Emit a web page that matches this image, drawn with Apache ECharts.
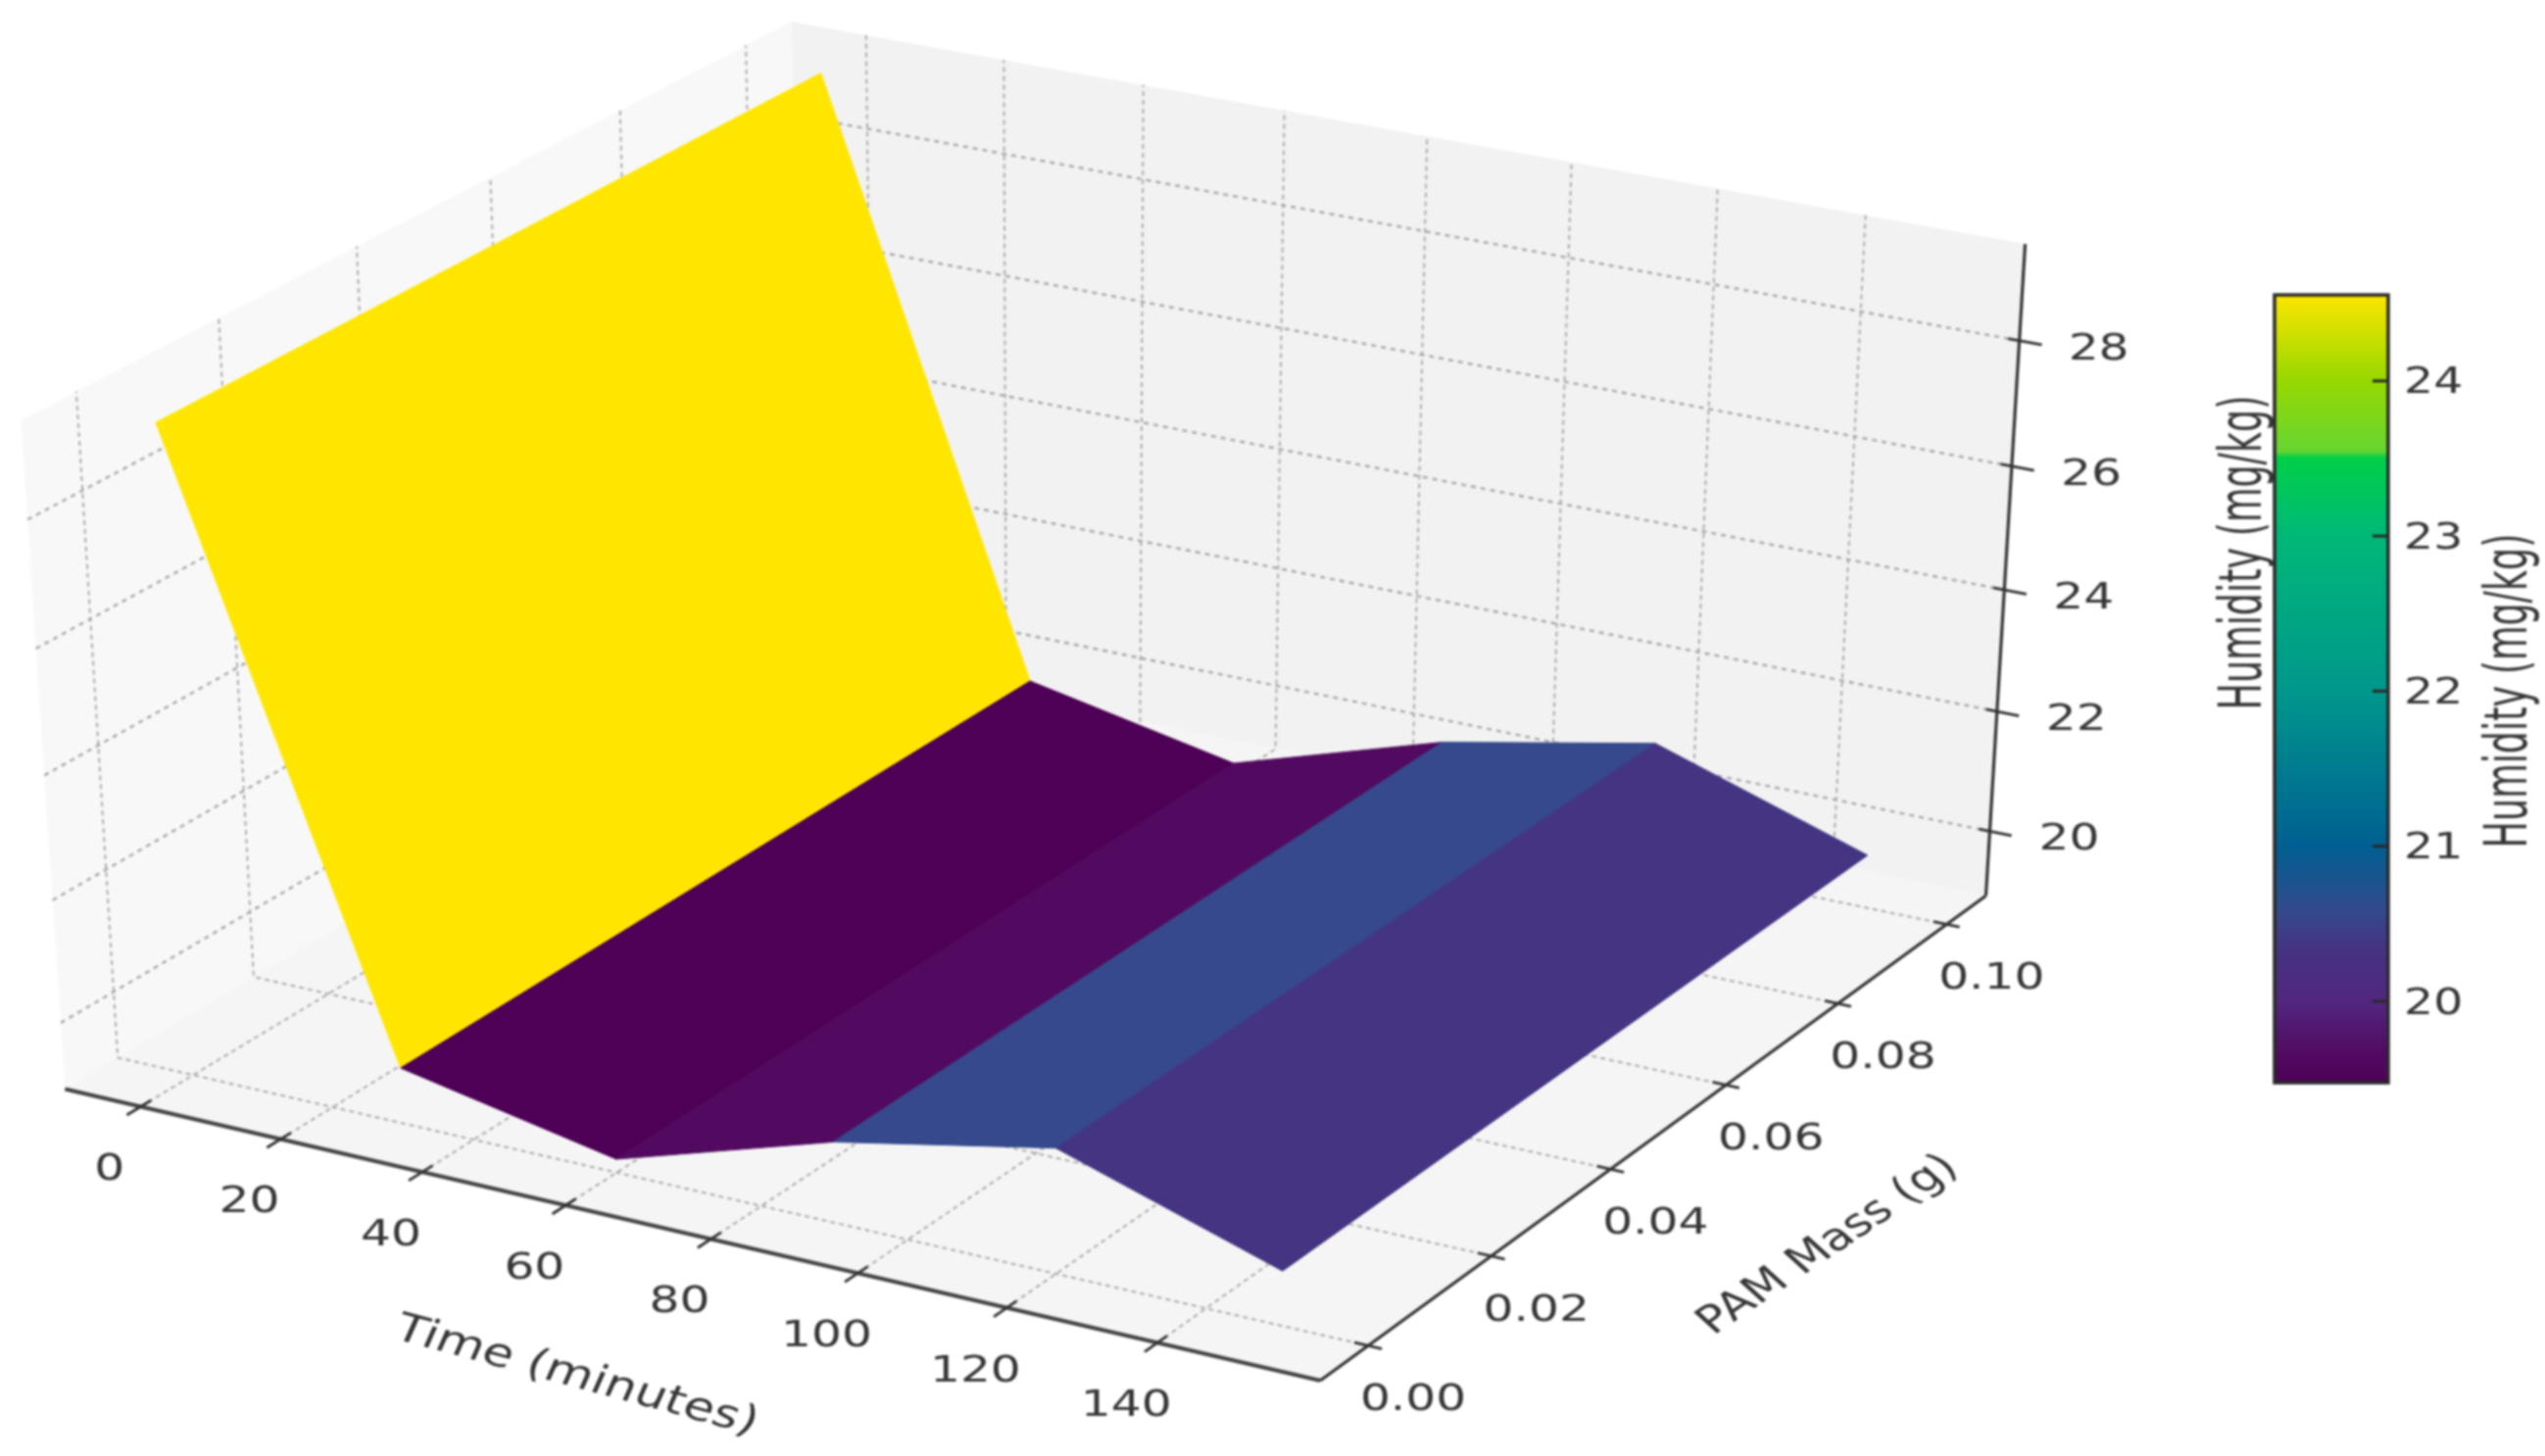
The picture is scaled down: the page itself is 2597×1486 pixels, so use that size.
<!DOCTYPE html>
<html><head><meta charset="utf-8"><style>html,body{margin:0;background:#fff}#c{width:2597px;height:1486px;filter:blur(0.9px)}</style>
<script src="https://cdn.jsdelivr.net/npm/echarts@6/dist/echarts.min.js"></script></head>
<body><div id="c"></div>
<script>
// ---- chart data ----
const timeValues = [0, 30, 60, 90, 120, 150];
const massValues = [0, 0.1];
const humidityValues = [29.29, 19.82, 19.13, 20.22, 20.93, 19.79];
const timeTicks = [0, 20, 40, 60, 80, 100, 120, 140];
const massTicks = [0, 0.02, 0.04, 0.06, 0.08, 0.1];
const humidityTicks = [20, 22, 24, 26, 28];
const colorbarTicks = [20, 21, 22, 23, 24];
const colorStopValues = [19.475, 19.67, 20.0, 20.36, 20.575, 21, 21.5, 22, 23, 23.5, 23.54, 24, 24.555];
const colorStopColors = ['#4d0055', '#520a60', '#52267f', '#443482', '#35498c', '#005f92', '#007c90', '#00978c', '#00b878', '#00d048', '#66d632', '#98d800', '#ffe600'];

// ---- axis limits of the 3-D box and its camera ----
const tLim = [-10.92, 161.32], mLim = [-0.0076, 0.1074], zLim = [18.91, 29.52];
const camera = [[1.21118, 0.82517, -0.04587, 0.06634], [0.22458, -0.38746, -0.70076, 1.11145], [-0.05175, 0.08936, -0.04232, 1]];
const FONT = '"DejaVu Sans"', TXT = '#363636', STRETCH = 1.28, STRETCH_VERTICAL = 1.65;

function project(t, m, z) {
  const u = (t - tLim[0]) / (tLim[1] - tLim[0]), v = (m - mLim[0]) / (mLim[1] - mLim[0]), w = (z - zLim[0]) / (zLim[1] - zLim[0]);
  const h = p => p[0] * u + p[1] * v + p[2] * w + p[3], W = h(camera[2]);
  return [h(camera[0]) / W * 1000, h(camera[1]) / W * 1000];
}
const label = (pos, text, size, rot, align, stretch) => ({
  type: 'group', x: pos[0], y: pos[1], scaleX: stretch || STRETCH, silent: true,
  children: [{ type: 'text', rotation: (rot || 0) * Math.PI / 180, style: { text, fontFamily: FONT, fontSize: size, fill: TXT, align: align || 'center', verticalAlign: 'middle' } }]
});
function colorOf(v) {
  const s = colorStopValues;
  let i = 0; while (i < s.length - 2 && v > s[i + 1]) i++;
  const f = Math.max(0, Math.min(1, (v - s[i]) / (s[i + 1] - s[i])));
  const hex = c => [1, 3, 5].map(k => parseInt(c.substr(k, 2), 16));
  const a = hex(colorStopColors[i]), b = hex(colorStopColors[i + 1]);
  return 'rgb(' + a.map((x, k) => Math.round(x + (b[k] - x) * f)).join(',') + ')';
}

// ---- one row per surface strip ----
const surfaceRows = timeValues.slice(0, -1).map((t, i) => [t, timeValues[i + 1], humidityValues[i], humidityValues[i + 1], (humidityValues[i] + humidityValues[i + 1]) / 2]);
const colorMin = Math.min(...surfaceRows.map(r => r[4])), colorMax = Math.max(...surfaceRows.map(r => r[4]));

const chart = echarts.init(document.getElementById('c'), null, { renderer: 'canvas' });
const T0 = tLim[0], T1 = tLim[1], M0 = mLim[0], M1 = mLim[1], Z0 = zLim[0], Z1 = zLim[1];
const onPlane = (api, pts) => pts.map(p => api.coord(project(p[0], p[1], p[2])));

function renderFrame(params, api) {
  const poly = (pts, fill) => ({ type: 'polygon', shape: { points: onPlane(api, pts) }, style: { fill }, silent: true });
  const line = (pts, stroke, lineWidth, lineDash) => ({ type: 'polyline', shape: { points: onPlane(api, pts) }, style: { stroke, lineWidth, lineDash, fill: null }, silent: true });
  const kids = [];
  kids.push(poly([[T0, M0, Z0], [T0, M1, Z0], [T0, M1, Z1], [T0, M0, Z1]], '#f8f8f8'));
  kids.push(poly([[T0, M1, Z0], [T1, M1, Z0], [T1, M1, Z1], [T0, M1, Z1]], '#f2f2f2'));
  kids.push(poly([[T0, M0, Z0], [T1, M0, Z0], [T1, M1, Z0], [T0, M1, Z0]], '#f5f5f5'));
  timeTicks.forEach(t => kids.push(line([[t, M0, Z0], [t, M1, Z0], [t, M1, Z1]], '#acacac', 2, [5, 4])));
  massTicks.forEach(m => kids.push(line([[T1, m, Z0], [T0, m, Z0], [T0, m, Z1]], '#acacac', 2, [5, 4])));
  humidityTicks.forEach(z => kids.push(line([[T0, M0, z], [T0, M1, z], [T1, M1, z]], '#a8a8a8', 2.4, [5, 5])));
  return { type: 'group', children: kids };
}
function renderAxes(params, api) {
  const line = (pts, stroke, lineWidth) => ({ type: 'polyline', shape: { points: onPlane(api, pts) }, style: { stroke, lineWidth, fill: null }, silent: true });
  const text = (pt, dx, dy, s) => { const p = onPlane(api, [pt])[0]; return label([p[0] + dx, p[1] + dy], s, 38); };
  const ink = '#333333', kids = [];
  kids.push(line([[T0, M0, Z0], [T1, M0, Z0]], '#444444', 4));
  kids.push(line([[T1, M0, Z0], [T1, M1, Z0]], ink, 3.2));
  kids.push(line([[T1, M1, Z0], [T1, M1, Z1]], ink, 3.2));
  timeTicks.forEach(t => {
    kids.push(line([[t, M0 - 0.002, Z0], [t, M0 + 0.0015, Z0]], ink, 2.8));
    kids.push(text([t, M0, Z0], -32, 65, String(t)));
  });
  massTicks.forEach(m => {
    kids.push(line([[T1 - 1.8, m, Z0], [T1 + 1.8, m, Z0]], ink, 2.8));
    kids.push(text([T1, m, Z0], 46, 56, m.toFixed(2)));
  });
  humidityTicks.forEach(z => {
    kids.push(line([[T1 - 1.5, M1, z], [T1 + 3, M1, z]], ink, 2.8));
    kids.push(text([T1, M1, z], 81, 9, String(z)));
  });
  kids.push(label(api.coord([588, 1405]), 'Time (minutes)', 40, -19));
  kids.push(label(api.coord([1866, 1271]), 'PAM Mass (g)', 39, 40.6));
  kids.push(label(api.coord([2291, 564]), 'Humidity (mg/kg)', 36.5, 90, 'center', STRETCH_VERTICAL));
  return { type: 'group', children: kids };
}
function renderStrip(params, api) {
  const a = api.value(0), b = api.value(1), za = api.value(2), zb = api.value(3), fill = colorOf(api.value(4));
  const pts = onPlane(api, [[a, massValues[0], za], [b, massValues[0], zb], [b, massValues[1], zb], [a, massValues[1], za]]);
  return { type: 'polygon', shape: { points: pts }, style: { fill, stroke: fill, lineWidth: 1 } };
}
function renderColorbar(params, api) {
  const tl = api.coord([0, colorMax]), br = api.coord([1, colorMin]);
  const stops = colorStopValues.map((v, i) => ({ offset: (colorMax - Math.min(v, colorMax)) / (colorMax - colorMin), color: colorStopColors[i] })).reverse();
  const kids = [{ type: 'rect', shape: { x: tl[0], y: tl[1], width: br[0] - tl[0], height: br[1] - tl[1] },
    style: { fill: new echarts.graphic.LinearGradient(0, 0, 0, 1, stops), stroke: '#2a2a2a', lineWidth: 3.5 } }];
  colorbarTicks.forEach(v => {
    const p = api.coord([1, v]);
    kids.push({ type: 'line', shape: { x1: p[0] - 16, y1: p[1], x2: p[0], y2: p[1] }, style: { stroke: '#2a2a2a', lineWidth: 3 } });
    kids.push(label([p[0] + 16, p[1] + 3], String(v), 37, 0, 'left'));
  });
  return { type: 'group', children: kids };
}
function renderOuterTitle(params, api) {
  return label(api.coord([2562, 705]), 'Humidity (mg/kg)', 36.5, 90, 'center', STRETCH_VERTICAL);
}

chart.setOption({
  animation: false,
  backgroundColor: '#ffffff',
  tooltip: { show: false },
  grid: [
    { left: 0, top: 0, right: 0, bottom: 0 },
    { left: 2321, top: 301, width: 116, height: 804 }
  ],
  xAxis: [
    { type: 'value', gridIndex: 0, min: 0, max: 2597, show: false },
    { type: 'value', gridIndex: 1, min: 0, max: 1, show: false }
  ],
  yAxis: [
    { type: 'value', gridIndex: 0, min: 0, max: 1486, inverse: true, show: false },
    { type: 'value', gridIndex: 1, min: colorMin, max: colorMax, position: 'right', show: false }
  ],
  series: [
    { type: 'custom', name: 'Box', xAxisIndex: 0, yAxisIndex: 0, z: 1, silent: true, renderItem: renderFrame, data: [[0, 0]] },
    { type: 'custom', name: 'Axes', xAxisIndex: 0, yAxisIndex: 0, z: 2, silent: true, renderItem: renderAxes, data: [[0, 0]] },
    { type: 'custom', name: 'Humidity', xAxisIndex: 0, yAxisIndex: 0, z: 3, silent: true, renderItem: renderStrip,
      encode: { x: 0, y: 2 }, data: surfaceRows },
    { type: 'custom', name: 'Colorbar', xAxisIndex: 1, yAxisIndex: 1, z: 4, silent: true, renderItem: renderColorbar, data: [[0, colorMin]] },
    { type: 'custom', name: 'Colorbar title', xAxisIndex: 0, yAxisIndex: 0, z: 4, silent: true, renderItem: renderOuterTitle, data: [[0, 0]] }
  ]
});
</script></body></html>
